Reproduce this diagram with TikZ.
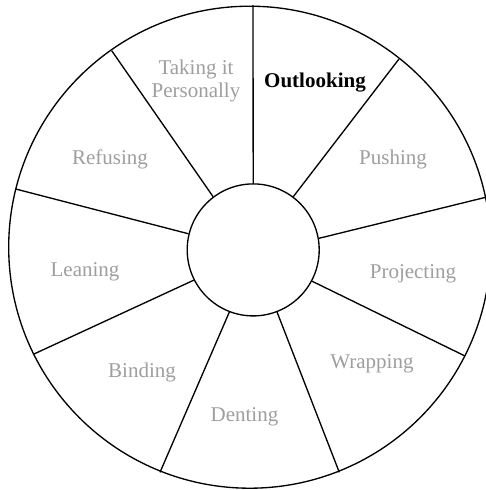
\documentclass[tikz,border=0pt]{standalone}
\usepackage{fontspec}
\setmainfont{Liberation Serif}
\begin{document}
\begin{tikzpicture}[x=0.75pt,y=-0.75pt,
  ring/.style={draw=black,line width=1pt},
  spoke/.style={draw=black,line width=1pt},
  lab/.style={text=labgray,font=\fontsize{15.75pt}{17.25pt}\selectfont,anchor=base,inner sep=0pt,align=center},
  labon/.style={text=black,font=\fontsize{15.75pt}{17.25pt}\selectfont\bfseries,anchor=base,inner sep=0pt,align=center}]
\definecolor{labgray}{RGB}{158,158,158}
\useasboundingbox (0,0) rectangle (486,490);
\clip (0,0) rectangle (486,490);
\draw[ring] (249.7,247.2) circle [radius=180.75pt];
\node[ring,circle,minimum size=99pt,inner sep=0pt] (hub) at (253.2,249.9) {};
\coordinate (o1) at (253,5);
\coordinate (o2) at (399,59);
\coordinate (o3) at (485.7,197.3);
\coordinate (o4) at (465,356);
\coordinate (o5) at (339.3,472.3);
\coordinate (o6) at (160,472.3);
\coordinate (o7) at (34,354);
\coordinate (o8) at (15.7,189);
\coordinate (o9) at (111.7,50.7);
\draw[spoke] (hub.90) -- (o1);
\draw[spoke] (hub.53.8) -- (o2);
\draw[spoke] (hub.10.8) -- (o3);
\draw[spoke] (hub.-28.5) -- (o4);
\draw[spoke] (hub.-69.2) -- (o5);
\draw[spoke] (hub.-111.9) -- (o6);
\draw[spoke] (hub.-153.6) -- (o7);
\draw[spoke] (hub.166.2) -- (o8);
\draw[spoke] (hub.127.3) -- (o9);
\node[lab] (taking) at (196,97) {Taking it\\Personally};
\node[labon] (outl) at (315,87) {Outlooking};
\node[lab] (push) at (393,164) {Pushing};
\node[lab] (proj) at (413,278) {Projecting};
\node[lab] (wrap) at (372,368) {Wrapping};
\node[lab] (dent) at (244.5,421.7) {Denting};
\node[lab] (bind) at (142,377) {Binding};
\node[lab] (lean) at (85,276.7) {Leaning};
\node[lab] (refu) at (110,164) {Refusing};
\end{tikzpicture}
\end{document}
